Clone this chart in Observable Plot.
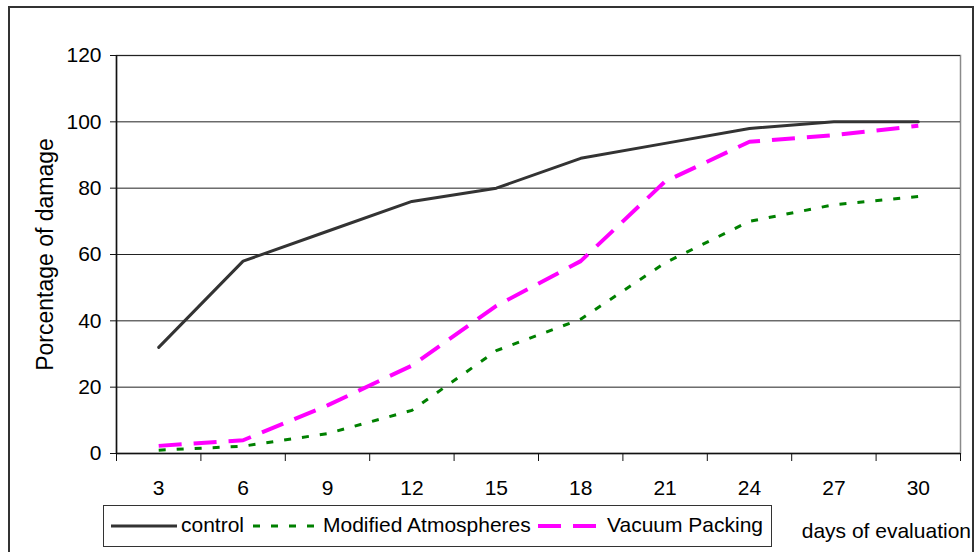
<!DOCTYPE html>
<html>
<head>
<meta charset="utf-8">
<script src="https://cdn.jsdelivr.net/npm/d3@7"></script>
<script src="https://cdn.jsdelivr.net/npm/@observablehq/plot@0.6"></script>
<style>
  body { margin: 0; background: #fff; font-family: "Liberation Sans", Arial, sans-serif; }
  #wrap { position: relative; width: 975px; height: 552px; overflow: hidden; background: #fff; }
  #wrap > svg { position: absolute; left: 0; top: 0; }
  .outer { position: absolute; left: 8px; top: 6px; width: 962px; height: 600px; border: 2px solid #333; pointer-events: none; }
  .legend { position: absolute; left: 103px; top: 505px; width: 667px; height: 40px; border: 1.5px solid #333; background: #fff; }
  .legend .sw { position: absolute; top: 16px; }
  .legend .lab { position: absolute; top: 7px; font-size: 21px; line-height: 24px; color: #000; white-space: nowrap; }
  .xtitle { position: absolute; right: 4px; top: 519px; font-size: 21px; line-height: 24px; color: #000; white-space: nowrap; }
</style>
</head>
<body>
<div id="wrap"></div>
<script>
// Days of evaluation and percentage of damage for each storage treatment
const days = [3, 6, 9, 12, 15, 18, 21, 24, 27, 30];
const control = [32, 58, 67, 76, 80, 89, 93.5, 98, 100, 100];
const modifiedAtmospheres = [1, 2.2, 6, 13, 31, 40.5, 57.5, 70, 75, 77.5];
const vacuumPacking = [2.3, 4, 14.5, 26.5, 44.5, 58, 82, 94, 96, 98.8];
const yTicks = [0, 20, 40, 60, 80, 100, 120];
const seriesNames = ["control", "Modified Atmospheres", "Vacuum Packing"];

// category boundaries (tick marks sit between the day labels)
const bandEdges = days.map(d => d - 1.5).concat([days[days.length - 1] + 1.5]);

const rows = (vals, name) => days.map((d, i) => ({day: d, damage: vals[i], series: name}));
const controlRows = rows(control, seriesNames[0]);
const maRows = rows(modifiedAtmospheres, seriesNames[1]);
const vpRows = rows(vacuumPacking, seriesNames[2]);

const styles = {
  control: {stroke: "#333333", strokeWidth: 3, dash: null},
  ma: {stroke: "#008000", strokeWidth: 3, dash: "7,11"},
  vp: {stroke: "#ff00ff", strokeWidth: 4, dash: "23,12"}
};

const chart = Plot.plot({
  width: 975,
  height: 552,
  marginLeft: 116,
  marginRight: 15,
  marginTop: 55,
  marginBottom: 99,
  style: {fontFamily: "Liberation Sans, Arial, sans-serif", background: "transparent", color: "#000"},
  x: {type: "linear", domain: [bandEdges[0], bandEdges[bandEdges.length - 1]]},
  y: {domain: [0, 120]},
  marks: [
    Plot.frame({stroke: "#8a8a8a", strokeWidth: 1.5}),
    Plot.gridY(yTicks, {stroke: "#222", strokeOpacity: 1, strokeWidth: 1}),
    Plot.ruleY([0], {stroke: "#111", strokeWidth: 1.5}),
    Plot.ruleX([bandEdges[0]], {stroke: "#111", strokeWidth: 1.5}),
    Plot.axisY({ticks: yTicks, tickSize: 6, tickPadding: 9, fontSize: 21, label: null, stroke: "#111"}),
    Plot.axisX({ticks: bandEdges, tickSize: 8, tickFormat: () => "", label: null, stroke: "#111"}),
    Plot.axisX({ticks: days, tickSize: 0, tickPadding: 27, fontSize: 21, label: null}),
    Plot.text(["Porcentage of damage"], {frameAnchor: "left", textAnchor: "middle", rotate: -90, dx: -71, fontSize: 23, fill: "#000"}),
    Plot.line(controlRows, {x: "day", y: "damage", stroke: styles.control.stroke, strokeWidth: styles.control.strokeWidth}),
    Plot.line(maRows, {x: "day", y: "damage", stroke: styles.ma.stroke, strokeWidth: styles.ma.strokeWidth, strokeDasharray: styles.ma.dash, strokeLinecap: "butt"}),
    Plot.line(vpRows, {x: "day", y: "damage", stroke: styles.vp.stroke, strokeWidth: styles.vp.strokeWidth, strokeDasharray: styles.vp.dash, strokeLinecap: "butt"})
  ]
});

const wrap = document.getElementById("wrap");
wrap.appendChild(chart);

// legend below the plot
const legend = document.createElement("div");
legend.className = "legend";
const items = [
  {name: seriesNames[0], st: styles.control, swLeft: 7, swWidth: 66, labLeft: 77},
  {name: seriesNames[1], st: styles.ma, swLeft: 149, swWidth: 63, labLeft: 219},
  {name: seriesNames[2], st: styles.vp, swLeft: 434, swWidth: 58, labLeft: 503}
];
for (const it of items) {
  const ns = "http://www.w3.org/2000/svg";
  const sw = document.createElementNS(ns, "svg");
  sw.setAttribute("class", "sw");
  sw.setAttribute("width", it.swWidth);
  sw.setAttribute("height", 8);
  sw.style.left = it.swLeft + "px";
  const ln = document.createElementNS(ns, "line");
  ln.setAttribute("x1", 0); ln.setAttribute("x2", it.swWidth);
  ln.setAttribute("y1", 4); ln.setAttribute("y2", 4);
  ln.setAttribute("stroke", it.st.stroke);
  ln.setAttribute("stroke-width", it.st.strokeWidth);
  if (it.st.dash) ln.setAttribute("stroke-dasharray", it.st.dash);
  sw.appendChild(ln);
  legend.appendChild(sw);
  const lab = document.createElement("div");
  lab.className = "lab";
  lab.style.left = it.labLeft + "px";
  lab.textContent = it.name;
  legend.appendChild(lab);
}
wrap.appendChild(legend);

const xt = document.createElement("div");
xt.className = "xtitle";
xt.textContent = "days of evaluation";
wrap.appendChild(xt);

const outer = document.createElement("div");
outer.className = "outer";
wrap.appendChild(outer);
</script>
</body>
</html>
